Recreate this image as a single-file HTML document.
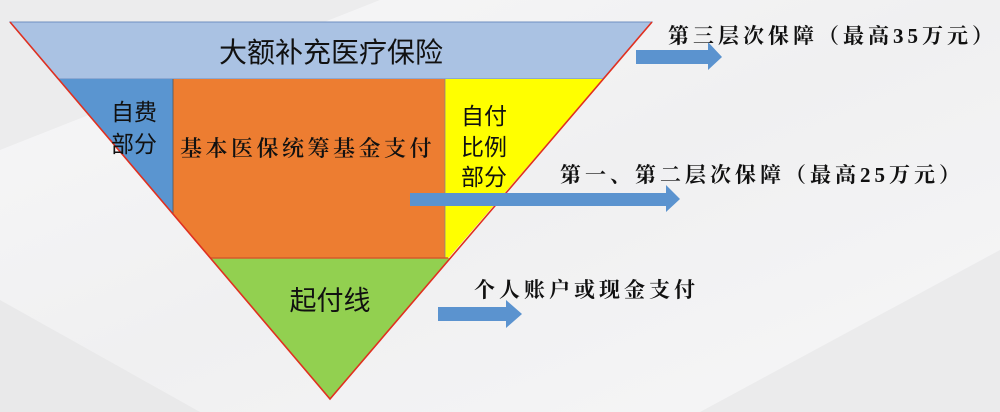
<!DOCTYPE html>
<html><head><meta charset="utf-8"><style>
html,body{margin:0;padding:0;width:1000px;height:412px;overflow:hidden;background:#f3f3f4}
svg{display:block}
.s{font-family:"Liberation Sans","Noto Sans CJK SC",sans-serif;fill:#111}
.r{font-family:"Liberation Serif","Noto Serif CJK SC",serif;fill:#111;font-weight:bold;letter-spacing:4px}
.o{font-family:"Noto Serif CJK SC",serif;fill:#111;font-weight:600;letter-spacing:3.5px}
</style></head><body>
<svg width="1000" height="412" viewBox="0 0 1000 412">
<defs><linearGradient id="bg" x1="0" y1="0" x2="1" y2="1">
<stop offset="0" stop-color="#f7f7f8"/><stop offset="0.5" stop-color="#f0f0f1"/><stop offset="1" stop-color="#f6f6f7"/></linearGradient></defs>
<rect width="1000" height="412" fill="url(#bg)"/>
<polygon points="0,0 380,0 0,150" fill="#ececed"/>
<polygon points="700,412 1000,250 1000,412" fill="#ebebec"/>
<polygon points="0,300 200,412 0,412" fill="#e9e9ea"/>
<polygon points="10,22 652,22 603,79 58,79" fill="#aac2e3" stroke="#6f8fc0" stroke-width="1"/>
<polygon points="58,79 173,79 173,214" fill="#5a95d0"/>
<polygon points="173,79 445,79 445,258 210,258 173,214" fill="#ed7d31"/>
<polygon points="445,79 603,79 445,262" fill="#ffff00"/>
<line x1="445" y1="79" x2="445" y2="262" stroke="#888" stroke-width="0.8"/>
<polygon points="210,258 450,258 330,399" fill="#92d050"/>
<line x1="210" y1="258" x2="448" y2="258" stroke="#d65a2a" stroke-width="1.5"/>
<line x1="173" y1="79" x2="173" y2="214" stroke="#555" stroke-width="0.8"/>
<polyline points="10,22 330,399 652,22" fill="none" stroke="#e03020" stroke-width="1.6"/>
<text class="s" x="331" y="62" font-size="28" text-anchor="middle">大额补充医疗保险</text>
<text class="s" x="134" y="120" font-size="23" text-anchor="middle">自费</text>
<text class="s" x="134" y="152" font-size="23" text-anchor="middle">部分</text>
<text class="o" x="180" y="156" font-size="22">基本医保统筹基金支付</text>
<text class="s" x="461" y="124" font-size="23">自付</text>
<text class="s" x="461" y="155" font-size="23">比例</text>
<text class="s" x="461" y="185" font-size="23">部分</text>
<text class="s" x="330" y="310" font-size="27" text-anchor="middle">起付线</text>
<polygon points="636,50 708,50 708,42 722,57 708,70 708,64 636,64" fill="#5b93cf"/>
<polygon points="410,193 666,193 666,185 680,199 666,212 666,206 410,206" fill="#5b93cf"/>
<polygon points="438,307 506,307 506,300 522,314 506,328 506,321 438,321" fill="#5b93cf"/>
<text class="r" x="668" y="43" font-size="21">第三层次保障（最高35万元）</text>
<text class="r" x="560" y="182" font-size="21">第一、第二层次保障（最高25万元）</text>
<text class="r" x="474" y="297" font-size="21">个人账户或现金支付</text>
</svg>
</body></html>
